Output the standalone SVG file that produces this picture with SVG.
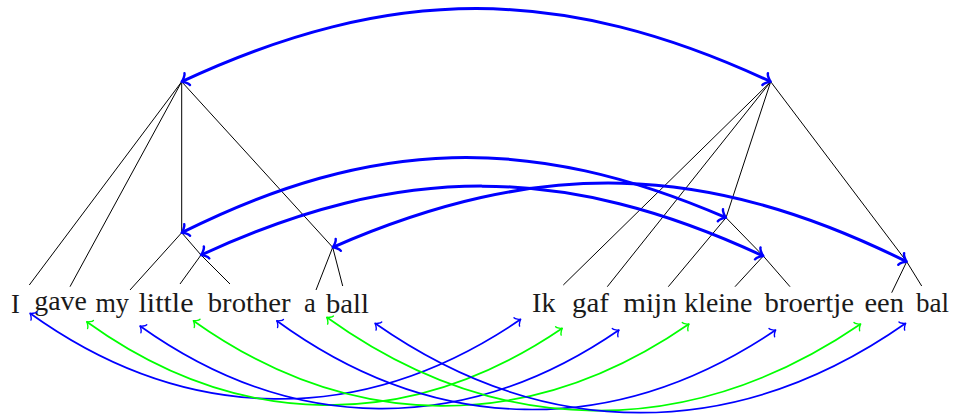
<svg xmlns="http://www.w3.org/2000/svg" width="954" height="414" viewBox="0 0 954 414">
<style>
  .w { fill: #1a1a1a; text-anchor: middle; }
  .t { stroke: #000; stroke-width: 1; fill: none; }
  .ab { stroke: #0000ff; stroke-width: 1.7; fill: none; marker-start: url(#mb); marker-end: url(#mb); }
  .ag { stroke: #00ff00; stroke-width: 1.7; fill: none; marker-start: url(#mg); marker-end: url(#mg); }
  .ak { stroke: #0000ff; stroke-width: 3; fill: none; marker-start: url(#mk); marker-end: url(#mk); }
</style>
<defs>
  <marker id="mb" markerUnits="userSpaceOnUse" markerWidth="20" markerHeight="20" refX="0.9" refY="0" orient="auto-start-reverse" overflow="visible">
    <path d="M -3.8 5 C -3.5 3.1 0 0.31 0.9 0 C 0 -0.31 -3.5 -3.1 -3.8 -5" fill="none" stroke="#0000ff" stroke-width="1.4" stroke-linecap="round" stroke-linejoin="round"/>
  </marker>
  <marker id="mg" markerUnits="userSpaceOnUse" markerWidth="20" markerHeight="20" refX="0.9" refY="0" orient="auto-start-reverse" overflow="visible">
    <path d="M -3.8 5 C -3.5 3.1 0 0.31 0.9 0 C 0 -0.31 -3.5 -3.1 -3.8 -5" fill="none" stroke="#00ff00" stroke-width="1.4" stroke-linecap="round" stroke-linejoin="round"/>
  </marker>
  <marker id="mk" markerUnits="userSpaceOnUse" markerWidth="30" markerHeight="30" refX="1.22" refY="0" orient="auto-start-reverse" overflow="visible">
    <path d="M -4.89 6.52 C -4.48 4.08 0 0.41 1.22 0 C 0 -0.41 -4.48 -4.08 -4.89 -6.52" fill="none" stroke="#0000ff" stroke-width="2.45" stroke-linecap="round" stroke-linejoin="round"/>
  </marker>
</defs>

<g font-family="Liberation Serif, DejaVu Serif, serif" font-size="26.5">
<g id="en-I"><text class="w" x="15.5" y="313.3">I</text></g>
<g id="en-gave"><text class="w" x="60.5" y="310" textLength="52.5" lengthAdjust="spacingAndGlyphs">gave</text></g>
<g id="en-my"><text class="w" x="112.2" y="312.3" textLength="33.5" lengthAdjust="spacingAndGlyphs">my</text></g>
<g id="en-little"><text class="w" x="166" y="312.3" textLength="55" lengthAdjust="spacingAndGlyphs">little</text></g>
<g id="en-brother"><text class="w" x="249.2" y="312.3" textLength="83" lengthAdjust="spacingAndGlyphs">brother</text></g>
<g id="en-a"><text class="w" x="310" y="312.3">a</text></g>
<g id="en-ball"><text class="w" x="347.5" y="312.8" textLength="43" lengthAdjust="spacingAndGlyphs">ball</text></g>

<g id="nl-Ik"><text class="w" x="543.8" y="312.3" textLength="23.5" lengthAdjust="spacingAndGlyphs">Ik</text></g>
<g id="nl-gaf"><text class="w" x="590.5" y="312.3" textLength="37" lengthAdjust="spacingAndGlyphs">gaf</text></g>
<g id="nl-mijn"><text class="w" x="650" y="312.3" textLength="53.5" lengthAdjust="spacingAndGlyphs">mijn</text></g>
<g id="nl-kleine"><text class="w" x="718.3" y="312.3" textLength="68" lengthAdjust="spacingAndGlyphs">kleine</text></g>
<g id="nl-broertje"><text class="w" x="809.2" y="312.3" textLength="89.5" lengthAdjust="spacingAndGlyphs">broertje</text></g>
<g id="nl-een"><text class="w" x="884.2" y="312.3" textLength="39.5" lengthAdjust="spacingAndGlyphs">een</text></g>
<g id="nl-bal"><text class="w" x="932.5" y="312.3" textLength="33" lengthAdjust="spacingAndGlyphs">bal</text></g>
</g>

<g id="connectors">
  <g id="tree-en">
    <line class="t" x1="181.7" y1="81.7" x2="29.3" y2="285"/>
    <line class="t" x1="181.7" y1="81.7" x2="70" y2="286.7"/>
    <line class="t" x1="181.7" y1="81.7" x2="181.7" y2="232.7"/>
    <line class="t" x1="181.7" y1="81.7" x2="332.7" y2="247.3"/>
    <line class="t" x1="181.7" y1="232.7" x2="130" y2="290"/>
    <polyline class="t" points="181.7,232.7 201,255 230,284"/>
    <line class="t" x1="201" y1="255" x2="180" y2="284"/>
    <line class="t" x1="332.7" y1="247.3" x2="316" y2="290"/>
    <line class="t" x1="332.7" y1="247.3" x2="342.7" y2="286"/>
  </g>
  <g id="tree-nl">
    <line class="t" x1="770.7" y1="81.7" x2="563.3" y2="285"/>
    <line class="t" x1="770.7" y1="81.7" x2="607.3" y2="286.7"/>
    <line class="t" x1="770.7" y1="81.7" x2="726" y2="217.7"/>
    <line class="t" x1="770.7" y1="81.7" x2="906.7" y2="261.7"/>
    <line class="t" x1="726" y1="217.7" x2="668.3" y2="286.7"/>
    <polyline class="t" points="726,217.7 763.3,256 790,286.7"/>
    <line class="t" x1="763.3" y1="256" x2="735" y2="286.7"/>
    <line class="t" x1="906.7" y1="261.7" x2="891.7" y2="292.7"/>
    <line class="t" x1="906.7" y1="261.7" x2="921.7" y2="286"/>
  </g>
  <g id="alignments">
    <path class="ak" d="M 181.7 81.7 C 390.7 -15.75 561.7 -15.75 770.7 81.7"/>
    <path class="ak" d="M 181.7 232.7 C 372.4 137.3 530.4 133 726 217.7"/>
    <path class="ak" d="M 201 255 C 400.5 163 563.8 163 763.3 256"/>
    <path class="ak" d="M 332.7 247.3 C 538.8 157.4 705.4 161.6 906.7 261.7"/>

    <path class="ab" d="M 30 313.3 C 186 425.4 362 427.5 520.7 319.3"/>
    <path class="ag" d="M 86.7 321.7 C 237.7 430.6 408.3 433 562.3 328.3"/>
    <path class="ab" d="M 140 326 C 292.7 434.8 464.5 436.3 619 330"/>
    <path class="ag" d="M 193.3 320.7 C 351.5 433.1 529.3 434.3 689 324"/>
    <path class="ab" d="M 276.7 320.7 C 434.6 435.8 613.6 439.1 775.7 330"/>
    <path class="ag" d="M 326.7 317.3 C 496.5 439.4 687.9 441.8 860.7 324"/>
    <path class="ab" d="M 375 323.3 C 545.2 442.5 735.5 442.5 905.7 323.3"/>
  </g>
</g>
</svg>
